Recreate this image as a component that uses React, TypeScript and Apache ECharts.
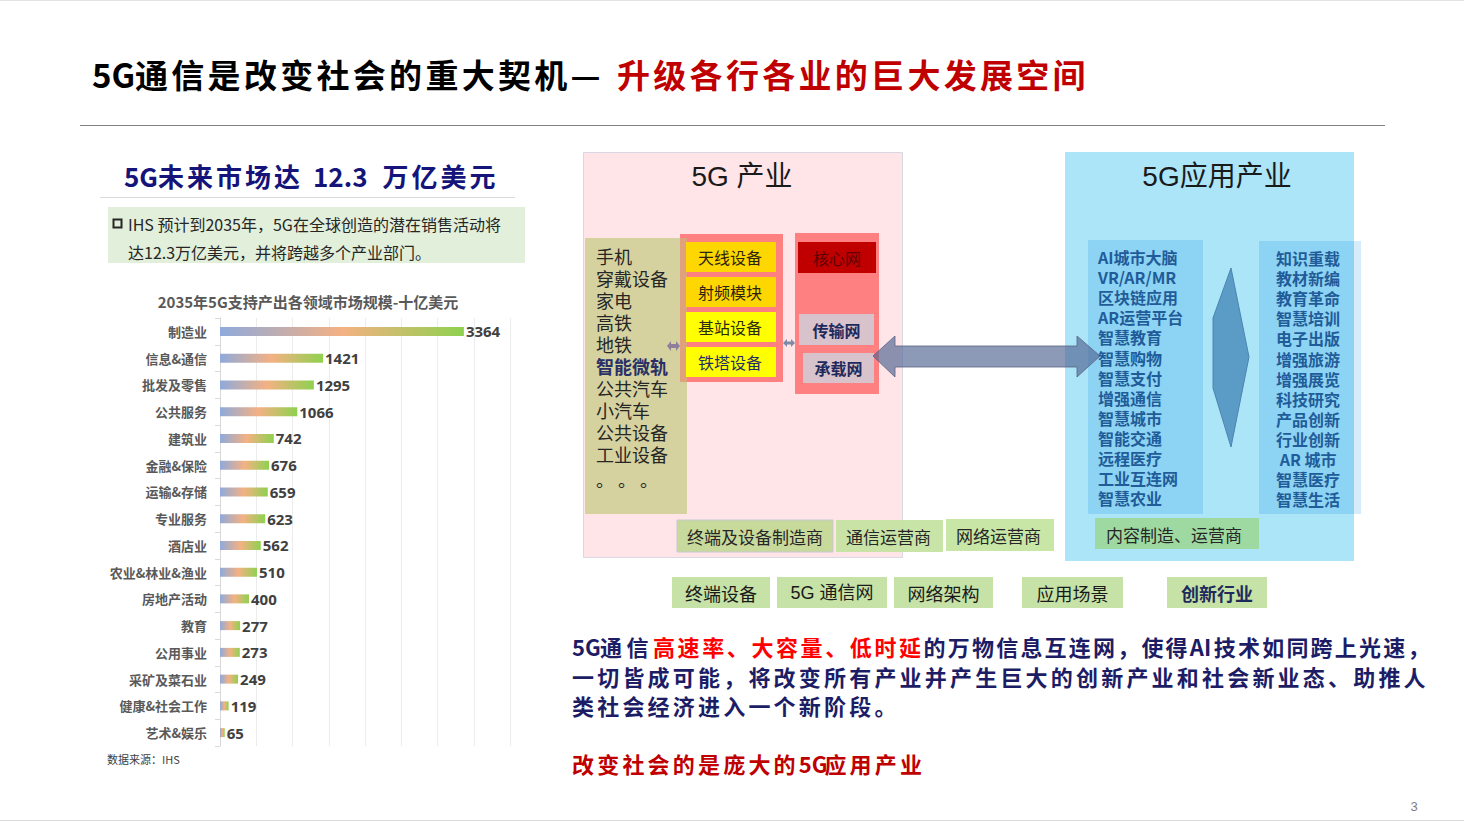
import React, { useEffect, useRef } from "react";
import * as echarts from "echarts";

// ---------- data ----------
const categories = [
  "制造业", "信息&通信", "批发及零售", "公共服务", "建筑业", "金融&保险", "运输&存储", "专业服务",
  "酒店业", "农业&林业&渔业", "房地产活动", "教育", "公用事业", "采矿及菜石业", "健康&社会工作", "艺术&娱乐",
];
const values = [3364, 1421, 1295, 1066, 742, 676, 659, 623, 562, 510, 400, 277, 273, 249, 119, 65];

const pageTitleBlack = "5G通信是改变社会的重大契机—";
const pageTitleRed = "升级各行各业的巨大发展空间";
const leftTitle = "5G未来市场达 12.3 万亿美元";
const noteLines = ["IHS 预计到2035年，5G在全球创造的潜在销售活动将", "达12.3万亿美元，并将跨越多个产业部门。"];
const chartTitle = "2035年5G支持产出各领域市场规模-十亿美元";
const sourceText = "数据来源：IHS";

const terminals = ["手机", "穿戴设备", "家电", "高铁", "地铁", "智能微轨", "公共汽车", "小汽车", "公共设备", "工业设备", "。 。 。"];
const equipment = ["天线设备", "射频模块", "基站设备", "铁塔设备"];
const networks = ["核心网", "传输网", "承载网"];
const apps = ["AI城市大脑", "VR/AR/MR", "区块链应用", "AR运营平台", "智慧教育", "智慧购物", "智慧支付", "增强通信", "智慧城市", "智能交通", "远程医疗", "工业互连网", "智慧农业"];
const innovations = ["知识重载", "教材新编", "教育革命", "智慧培训", "电子出版", "增强旅游", "增强展览", "科技研究", "产品创新", "行业创新", " AR 城市", "智慧医疗", "智慧生活"];
const roles = ["终端及设备制造商", "通信运营商", "网络运营商", "内容制造、运营商"];
const layers = ["终端设备", "5G 通信网", "网络架构", "应用场景", "创新行业"];
const para1 = [
  ["5G通信", "n"],
  ["高速率、大容量、低时延", "r"],
  ["的万物信息互连网，使得AI技术如同跨上光速，", "n"],
];
const para2 = "一切皆成可能，将改变所有产业并产生巨大的创新产业和社会新业态、助推人";
const para3 = "类社会经济进入一个新阶段。";
const para4 = "改变社会的是庞大的5G应用产业";

const CJK = '"Noto Sans CJK SC", "Liberation Sans", sans-serif';
const LAT = '"Liberation Sans", "Noto Sans CJK SC", sans-serif';

// places CJK characters at a fixed pitch; runs of ASCII characters are drawn as one piece
function spaced(str: string, x0: number, y: number, pitch: number, asciiAdv: number, style: any, spaceAdv?: number) {
  const els: any[] = [];
  let x = x0;
  const chars = Array.from(str);
  let i = 0;
  while (i < chars.length) {
    const ch = chars[i];
    if (ch.charCodeAt(0) < 128) {
      let run = "";
      let adv = 0;
      while (i < chars.length && chars[i].charCodeAt(0) < 128) {
        const c = chars[i];
        run += c;
        adv += c === " " ? (spaceAdv ?? asciiAdv * 0.6) : c === "." ? asciiAdv * 0.5 : asciiAdv;
        i++;
      }
      const trimmed = run.replace(/^ +/, "");
      const lead = run.length - trimmed.length;
      const leadAdv = lead * (spaceAdv ?? asciiAdv * 0.6);
      if (trimmed.trim().length) {
        els.push({
          type: "text",
          x: x + leadAdv,
          y,
          style: { text: trimmed.trimEnd(), fontFamily: CJK, verticalAlign: "middle", align: "left", ...style },
        });
      }
      x += adv;
    } else {
      els.push({
        type: "text",
        x,
        y,
        style: { text: ch, fontFamily: CJK, verticalAlign: "middle", align: "left", ...style },
      });
      x += pitch;
      i++;
    }
  }
  return { els, x };
}

function rect(x: number, y: number, w: number, h: number, fill: string, stroke?: string) {
  return {
    type: "rect",
    shape: { x, y, width: w, height: h },
    style: { fill, stroke: stroke || null, lineWidth: stroke ? 1 : 0 },
  };
}

function text(t: string, x: number, y: number, size: number, color: string, opts: any = {}) {
  return {
    type: "text",
    x,
    y,
    style: {
      text: t,
      fontSize: size,
      fill: color,
      fontFamily: CJK,
      verticalAlign: "middle",
      align: "left",
      ...opts,
    },
  };
}

function buildGraphics() {
  const g: any[] = [];
  // page frame lines
  g.push({ type: "line", shape: { x1: 0, y1: 0.5, x2: 1464, y2: 0.5 }, style: { stroke: "#e3e3e3", lineWidth: 1 } });
  g.push({ type: "line", shape: { x1: 0, y1: 820.5, x2: 1464, y2: 820.5 }, style: { stroke: "#d9d9d9", lineWidth: 1 } });

  // page title
  g.push(...spaced(pageTitleBlack, 92, 74, 36.3, 21.5, { fontSize: 33, fontWeight: "bold", fill: "#000000" }).els);
  g.push(...spaced(pageTitleRed, 617, 74, 36.3, 21.5, { fontSize: 33, fontWeight: "bold", fill: "#c00000" }).els);
  g.push({ type: "line", shape: { x1: 80, y1: 125.5, x2: 1385, y2: 125.5 }, style: { stroke: "#808080", lineWidth: 1 } });

  // left panel
  g.push(...spaced(leftTitle, 124, 175, 29, 17, { fontSize: 26, fontWeight: "bold", fill: "#14147a" }, 10).els);
  g.push({ type: "line", shape: { x1: 100, y1: 197.5, x2: 515, y2: 197.5 }, style: { stroke: "#d9d9d9", lineWidth: 1 } });
  g.push(rect(108, 207, 417, 56, "#e2efda"));
  g.push({ type: "rect", shape: { x: 113.5, y: 219.5, width: 8, height: 8 }, style: { fill: "none", stroke: "#262626", lineWidth: 2 } });
  g.push(text(noteLines[0], 128, 224, 16, "#262626"));
  g.push(text(noteLines[1], 128, 252, 16, "#262626"));
  g.push(text(chartTitle, 308, 301, 15, "#595959", { align: "center", fontWeight: "bold" }));
  g.push(text(sourceText, 107, 759, 11, "#404040"));

  // 5G 产业 box
  g.push(rect(583.5, 152.5, 319, 405, "#ffe4e8", "#d8d8e2"));
  g.push(text("5G 产业", 742, 176, 28, "#1a1a1a", { align: "center", fontFamily: LAT }));
  g.push(rect(585, 238, 102, 276, "#d5d2a0"));
  g.push(rect(680, 234, 103, 148, "#ff8080"));
  g.push(rect(680, 238, 7, 144, "#dfa27c"));
  g.push(rect(795, 233, 84, 161, "#ff8080"));
  const eqY = [242, 277, 312, 347];
  const eqFill = ["#ffd700", "#ffd700", "#ffff00", "#ffff00"];
  const eqCol = ["#2b2410", "#2b2410", "#2b2b10", "#1f2d6b"];
  equipment.forEach((e, i) => {
    g.push(rect(686, eqY[i], 90, 30, eqFill[i]));
    g.push(text(e, 730, eqY[i] + 15, 16, eqCol[i], { align: "center" }));
  });
  g.push(rect(798, 242, 78, 31, "#c00000"));
  g.push(text(networks[0], 837, 257.5, 16, "#5c0000", { align: "center" }));
  g.push(rect(799, 314, 75, 31, "#d8c3cc"));
  g.push(text(networks[1], 836.5, 329.5, 16, "#1f2a5c", { align: "center", fontWeight: "bold" }));
  g.push(rect(803, 353, 71, 30, "#d8c3cc"));
  g.push(text(networks[2], 838.5, 368, 16, "#1f2a5c", { align: "center", fontWeight: "bold" }));
  // small double arrows
  g.push({
    type: "polygon",
    shape: { points: [[667, 346], [671, 341], [671, 344], [676, 344], [676, 341], [680, 346], [676, 351], [676, 348], [671, 348], [671, 351]] },
    style: { fill: "#8e7f9c" },
  });
  g.push({
    type: "polygon",
    shape: { points: [[783, 343], [787, 339], [787, 341.5], [791, 341.5], [791, 339], [795, 343], [791, 347], [791, 344.5], [787, 344.5], [787, 347]] },
    style: { fill: "#7f8aa6" },
  });
  terminals.forEach((t, i) => {
    const bold = t === "智能微轨";
    g.push(
      text(t, 596, 256 + i * 22 + (i === 10 ? 3 : 0), 18, bold ? "#2a2f66" : "#262626", {
        lineHeight: 21,
        ...(bold ? { fontWeight: "bold" } : {}),
      })
    );
  });

  // 5G 应用产业 box
  g.push(rect(1065, 152, 289, 409, "#ace4f8"));
  g.push(text("5G应用产业", 1217, 176, 28, "#1a1a1a", { align: "center", fontFamily: LAT }));
  g.push(rect(1088, 240, 115, 274, "#8dd3f3"));
  g.push(rect(1259, 241, 95, 273, "#8dd3f3"));
  g.push(rect(1354, 241, 7, 273, "#d6ecfa"));
  g.push({
    type: "polygon",
    shape: { points: [[1231, 268], [1249, 357], [1231, 447], [1213, 388], [1213, 318]] },
    style: { fill: "#5a9cc6", stroke: "#4a86b0", lineWidth: 1 },
  });
  // big double arrow
  g.push({
    type: "polygon",
    shape: {
      points: [[873, 356], [895, 336], [895, 346], [1077, 346], [1077, 336], [1100, 356], [1077, 377], [1077, 367], [895, 367], [895, 377]],
    },
    style: { fill: "rgba(80,100,145,0.66)", stroke: "rgba(90,100,130,0.8)", lineWidth: 1 },
  });
  apps.forEach((t, i) => {
    g.push(text(t, 1098, 257 + i * 20.1, 16, "#1f5c99", { fontWeight: "bold", lineHeight: 19 }));
  });
  innovations.forEach((t, i) => {
    g.push(text(t, 1276, 258 + i * 20.1, 16, "#1f5c99", { fontWeight: "bold", lineHeight: 19 }));
  });

  // role boxes
  g.push(rect(677, 520, 156, 32, "#c8d99c", "#c8c8d2"));
  g.push(text(roles[0], 687, 536.5, 17, "#262626"));
  g.push(rect(836, 520, 107, 32, "rgba(196,226,160,0.92)"));
  g.push(text(roles[1], 846, 536.5, 17, "#262626"));
  g.push(rect(946, 519, 108, 32, "#c8e6a6"));
  g.push(text(roles[2], 956, 535, 17, "#262626"));
  g.push(rect(1095, 518, 164, 31, "#9ed9a2"));
  g.push(text(roles[3], 1106, 534, 17, "#262626"));

  // layer boxes
  const lx = [672, 777, 894, 1022, 1167];
  const lw = [98, 110, 99, 101, 100];
  layers.forEach((t, i) => {
    g.push(rect(lx[i], 577, lw[i], 31, "#c6e2a6"));
    const last = i === layers.length - 1;
    g.push(
      text(t, lx[i] + lw[i] / 2, 593, 18, last ? "#1f2a5c" : "#1a1a1a", {
        align: "center",
        fontWeight: last ? "bold" : "normal",
        fontFamily: t.startsWith("5G") ? LAT : CJK,
      })
    );
  });

  // paragraph
  const navy = "#1d1d66";
  const pstyle = { fontSize: 22, fontWeight: "bold" };
  const p1Pitch = [26.5, 24.6, 24.2];
  const p1Ascii = [14, 12, 12];
  let px = 572;
  para1.forEach(([seg, c], k) => {
    const r = spaced(seg, px, 646, p1Pitch[k], p1Ascii[k], { ...pstyle, fill: c === "r" ? "#ff0000" : navy });
    g.push(...r.els);
    px = r.x;
  });
  g.push(...spaced(para2, 572, 676, 25.2, 12.8, { ...pstyle, fill: navy }).els);
  g.push(...spaced(para3, 572, 705, 25.2, 12.8, { ...pstyle, fill: navy }).els);
  g.push(...spaced(para4, 572, 763, 25.2, 12.8, { ...pstyle, fill: "#c00000" }).els);

  g.push(text("3", 1414, 806, 13, "#7f7f7f", { align: "center", fontFamily: LAT }));
  return g;
}

export default function App() {
  const ref = useRef<HTMLDivElement>(null);
  useEffect(() => {
    if (!ref.current) return;
    const chart = echarts.init(ref.current, null, { renderer: "svg" });
    const grad = new echarts.graphic.LinearGradient(0, 0, 1, 0, [
      { offset: 0, color: "#8eaadc" },
      { offset: 0.5, color: "#f4b183" },
      { offset: 1, color: "#8fd14f" },
    ]);
    chart.setOption({
      animation: false,
      backgroundColor: "#ffffff",
      grid: { left: 220, top: 318, width: 290, height: 428, containLabel: false },
      xAxis: {
        type: "value",
        min: 0,
        max: 4000,
        interval: 500,
        axisLabel: { show: false },
        axisLine: { show: false },
        axisTick: { show: false },
        splitLine: { show: true, lineStyle: { color: "#ececec", width: 1 } },
      },
      yAxis: {
        type: "category",
        inverse: true,
        data: categories,
        axisLine: { show: true, lineStyle: { color: "#d9d9d9" } },
        axisTick: { show: true, length: 5, lineStyle: { color: "#d9d9d9" } },
        axisLabel: { fontSize: 13, fontWeight: "bold", color: "#595959", margin: 13, fontFamily: CJK },
      },
      series: [
        {
          type: "bar",
          data: values,
          barWidth: 9,
          itemStyle: { color: grad },
          label: {
            show: true,
            position: "right",
            distance: 2,
            fontSize: 15,
            fontWeight: "bold",
            color: "#404040",
            fontFamily: '"Open Sans", "Noto Sans CJK SC", sans-serif',
          },
        },
      ],
      graphic: { elements: buildGraphics() },
    });
    return () => chart.dispose();
  }, []);
  return <div ref={ref} style={{ position: "fixed", left: 0, top: 0, width: 1464, height: 821 }} />;
}
